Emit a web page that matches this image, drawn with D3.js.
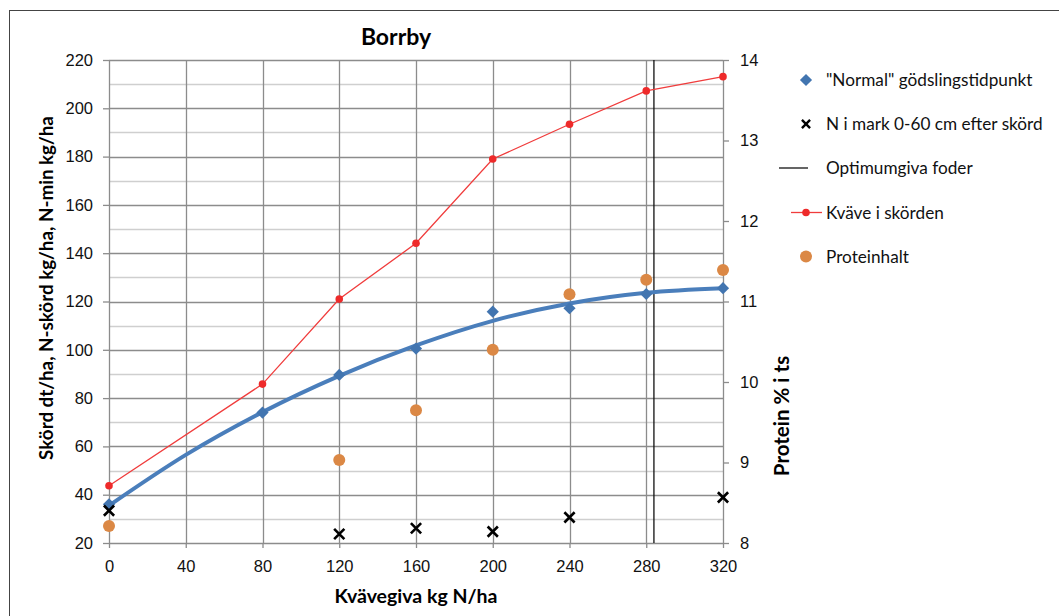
<!DOCTYPE html>
<html>
<head>
<meta charset="utf-8">
<script src="https://cdn.jsdelivr.net/npm/d3@7"></script>
<style>
  body { margin: 0; background: #fff; }
  svg { font-family: Lato, "Open Sans", sans-serif; }
  .axis path, .axis line { stroke: #8c8c8c; stroke-width: 1.3; }
  .axis text { font-size: 16.5px; fill: #111; }
</style>
</head>
<body>
<div id="chart"></div>
<script>
// data
var doses = [0, 40, 80, 120, 160, 200, 240, 280, 320];
var normalX = [0, 80, 120, 160, 200, 240, 280, 320];
var normalY = [36, 74, 89.6, 100.5, 115.8, 117.2, 123.1, 125.5];
var trendX = [0, 40, 80, 120, 160, 200, 240, 280, 320];
var trendY = [35.5, 56.5, 74.2, 89.2, 101.8, 112, 119.2, 123.6, 125.5];
var nMinX = [0, 120, 160, 200, 240, 320];
var nMinY = [33.4, 23.7, 26.1, 24.7, 30.6, 38.9];
var kvaveX = [0, 80, 120, 160, 200, 240, 280, 320];
var kvaveY = [43.7, 85.8, 121, 144.1, 179, 193.4, 207.2, 213.1];
var proteinX = [0, 120, 160, 200, 240, 280, 320];
var proteinY = [8.21, 9.03, 9.65, 10.4, 11.09, 11.27, 11.39];
var optimumGiva = 284;
var leftTicks = [20, 40, 60, 80, 100, 120, 140, 160, 180, 200, 220];
var rightTicks = [8, 9, 10, 11, 12, 13, 14];
var legendLabels = ['"Normal" gödslingstidpunkt', 'N i mark 0-60 cm efter skörd',
  'Optimumgiva foder', 'Kväve i skörden', 'Proteinhalt'];

var W = 1059, H = 616;
var plotL = 109, plotR = 723, plotT = 60, plotB = 543;

var svg = d3.select('#chart').append('svg')
  .attr('width', W).attr('height', H);

// outer frame
svg.append('rect')
  .attr('x', 9.5).attr('y', 10.5)
  .attr('width', W + 10).attr('height', H + 10)
  .attr('fill', 'none').attr('stroke', '#444').attr('stroke-width', 1);

var x = d3.scaleLinear().domain([0, 320]).range([plotL, plotR]);
var y = d3.scaleLinear().domain([20, 220]).range([plotB, plotT]);
var y2 = d3.scaleLinear().domain([8, 14]).range([plotB, plotT]);

var minorTicks = d3.range(30, 220, 20);

// grid
svg.append('g').selectAll('line')
  .data(minorTicks).enter().append('line')
  .attr('x1', plotL).attr('x2', plotR)
  .attr('y1', function (d) { return Math.round(y(d)) + 0.5; })
  .attr('y2', function (d) { return Math.round(y(d)) + 0.5; })
  .attr('stroke', '#cfcfcf').attr('stroke-width', 1.3);

svg.append('g').selectAll('line')
  .data(leftTicks).enter().append('line')
  .attr('x1', plotL).attr('x2', plotR)
  .attr('y1', function (d) { return Math.round(y(d)) + 0.5; })
  .attr('y2', function (d) { return Math.round(y(d)) + 0.5; })
  .attr('stroke', '#8c8c8c').attr('stroke-width', 1.3);

svg.append('g').selectAll('line')
  .data(doses).enter().append('line')
  .attr('x1', function (d) { return Math.round(x(d)) + 0.5; })
  .attr('x2', function (d) { return Math.round(x(d)) + 0.5; })
  .attr('y1', plotT).attr('y2', plotB)
  .attr('stroke', '#8c8c8c').attr('stroke-width', 1.3);

// axes
var yAxis = d3.axisLeft(y).tickValues(leftTicks).tickSize(6).tickPadding(10);
svg.append('g').attr('class', 'axis')
  .attr('transform', 'translate(' + plotL + ',0)')
  .call(yAxis)
  .call(function (g) { g.select('.domain').remove(); });

var y2Axis = d3.axisRight(y2).tickValues(rightTicks).tickFormat(d3.format('d'))
  .tickSize(6).tickPadding(11);
svg.append('g').attr('class', 'axis')
  .attr('transform', 'translate(' + plotR + ',0)')
  .call(y2Axis)
  .call(function (g) { g.select('.domain').remove(); });

var xAxis = d3.axisBottom(x).tickValues(doses).tickSize(5).tickPadding(12);
svg.append('g').attr('class', 'axis')
  .attr('transform', 'translate(0,' + plotB + ')')
  .call(xAxis)
  .call(function (g) { g.select('.domain').remove(); });

// optimum line
svg.append('line')
  .attr('x1', x(optimumGiva)).attr('x2', x(optimumGiva))
  .attr('y1', plotT).attr('y2', plotB)
  .attr('stroke', '#111').attr('stroke-width', 1.3);

// trend curve
var trend = trendX.map(function (d, i) { return [d, trendY[i]]; });
svg.append('path')
  .datum(trend)
  .attr('fill', 'none').attr('stroke', '#4a7ebb').attr('stroke-width', 4)
  .attr('d', d3.line()
    .x(function (d) { return x(d[0]); })
    .y(function (d) { return y(d[1]); })
    .curve(d3.curveMonotoneX));

// diamonds
var diamond = d3.symbol().type(d3.symbolDiamond2).size(95);
svg.append('g').selectAll('path')
  .data(normalX).enter().append('path')
  .attr('d', diamond)
  .attr('transform', function (d, i) { return 'translate(' + x(d) + ',' + y(normalY[i]) + ')'; })
  .attr('fill', '#4275b0');

// red line
var kvave = kvaveX.map(function (d, i) { return [d, kvaveY[i]]; });
svg.append('path')
  .datum(kvave)
  .attr('fill', 'none').attr('stroke', '#f03c3c').attr('stroke-width', 1.3)
  .attr('d', d3.line()
    .x(function (d) { return x(d[0]); })
    .y(function (d) { return y(d[1]); }));
svg.append('g').selectAll('circle')
  .data(kvave).enter().append('circle')
  .attr('cx', function (d) { return x(d[0]); })
  .attr('cy', function (d) { return y(d[1]); })
  .attr('r', 3.8).attr('fill', '#ee2a2a');

// X markers
var cross = d3.symbol().type(d3.symbolX).size(70);
svg.append('g').selectAll('path')
  .data(nMinX).enter().append('path')
  .attr('d', cross)
  .attr('transform', function (d, i) { return 'translate(' + x(d) + ',' + y(nMinY[i]) + ')'; })
  .attr('fill', 'none').attr('stroke', '#000').attr('stroke-width', 2.6);

// protein
svg.append('g').selectAll('circle')
  .data(proteinX).enter().append('circle')
  .attr('cx', function (d) { return x(d); })
  .attr('cy', function (d, i) { return y2(proteinY[i]); })
  .attr('r', 6).attr('fill', '#db8845');

// titles
svg.append('text')
  .attr('x', 396).attr('y', 45)
  .attr('text-anchor', 'middle')
  .style('font-size', '23px').style('font-weight', 'bold')
  .text('Borrby');

svg.append('text')
  .attr('transform', 'translate(53,288) rotate(-90)')
  .attr('text-anchor', 'middle')
  .style('font-size', '18.8px').style('font-weight', 'bold')
  .text('Skörd dt/ha, N-skörd kg/ha, N-min kg/ha');

svg.append('text')
  .attr('transform', 'translate(789,416) rotate(-90)')
  .attr('text-anchor', 'middle')
  .style('font-size', '20.5px').style('font-weight', 'bold')
  .text('Protein % i ts');

svg.append('text')
  .attr('x', 416).attr('y', 603)
  .attr('text-anchor', 'middle')
  .style('font-size', '19.5px').style('font-weight', 'bold')
  .text('Kvävegiva kg N/ha');

// legend
var legend = svg.append('g');
var rowY = [80, 124, 168, 212.5, 256.5];
legendLabels.forEach(function (label, i) {
  var g = legend.append('g').attr('transform', 'translate(806,' + rowY[i] + ')');
  if (i === 0) {
    g.append('path').attr('d', diamond).attr('fill', '#4275b0');
  } else if (i === 1) {
    g.append('path').attr('d', d3.symbol().type(d3.symbolX).size(45))
      .attr('fill', 'none').attr('stroke', '#000').attr('stroke-width', 2.4);
  } else if (i === 2) {
    g.append('line').attr('x1', -27).attr('x2', 2).attr('y1', 0).attr('y2', 0)
      .attr('stroke', '#111').attr('stroke-width', 1.3);
  } else if (i === 3) {
    g.append('line').attr('x1', -15).attr('x2', 16).attr('y1', 0).attr('y2', 0)
      .attr('stroke', '#f03c3c').attr('stroke-width', 1.3);
    g.append('circle').attr('r', 3.8).attr('fill', '#ee2a2a');
  } else {
    g.append('circle').attr('r', 6).attr('fill', '#db8845');
  }
  g.append('text')
    .attr('x', 20).attr('y', 6)
    .style('font-size', '17.2px').attr('fill', '#111')
    .text(label);
});
</script>
</body>
</html>
